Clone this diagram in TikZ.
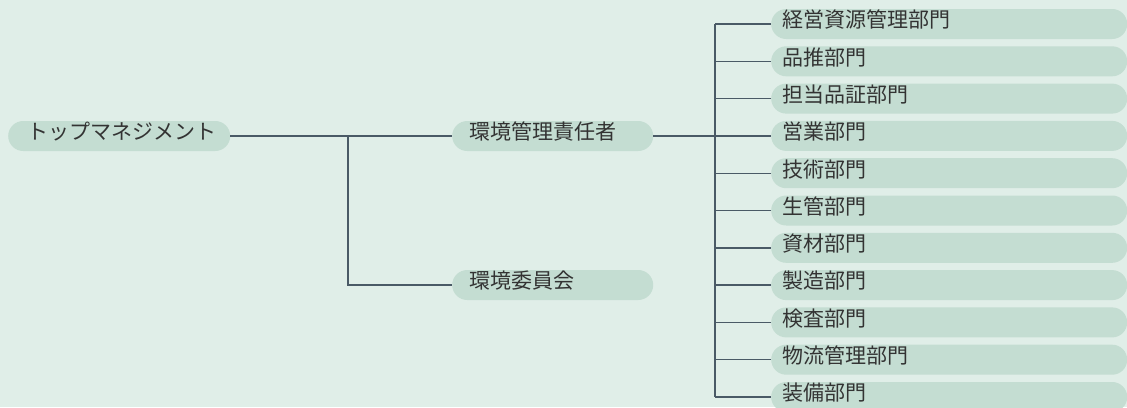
\documentclass[tikz,border=0pt]{standalone}
\usepackage{fontspec}
\newfontfamily\jp{Noto Sans CJK JP}
\definecolor{bg}{HTML}{E0EEE8}
\definecolor{pill}{HTML}{C4DDD2}
\definecolor{ln}{HTML}{4A5A66}
\definecolor{tx}{HTML}{333333}
\begin{document}
\begin{tikzpicture}[x=1pt,y=-1pt,
  pillbox/.style={fill=pill, rounded corners=15pt, minimum height=30pt, inner ysep=0pt,
    font=\jp\fontsize{21}{21}\selectfont, text=tx, text height=0.88em, text depth=0.12em, align=left, anchor=west},
  toppill/.style={pillbox, inner xsep=19pt, text width=184pt},
  midpill/.style={pillbox, inner xsep=17pt, text width=167pt},
  deptpill/.style={pillbox, inner xsep=11pt, text width=334pt},
  conn/.style={draw=ln, line width=1.4pt}]
\fill[bg] (0,0) rectangle (1127,407);
\useasboundingbox (0,0) rectangle (1127,407);
\node[toppill] (top) at (8,136) {トップマネジメント};
\node[midpill] (mgr) at (452,136) {環境管理責任者};
\node[midpill] (com) at (452,285) {環境委員会};
\coordinate (j1) at (348,136);
\coordinate (j2) at (715,136);
\foreach \t [count=\i] in {経営資源管理部門,品推部門,担当品証部門,営業部門,技術部門,生管部門,資材部門,製造部門,検査部門,物流管理部門,装備部門}{
  \node[deptpill] (d\i) at (771,{24+(\i-1)*37.3}) {\t};
}
\draw[conn] (top.east) -- (mgr.west);
\draw[conn] (j1) |- (com.west);
\draw[conn] (mgr.east) -- (j2);
\draw[conn] (j2 |- d1.west) -- (j2 |- d11.west);
\foreach \i in {1,...,11}{
  \draw[conn] (j2 |- d\i.west) -- (d\i.west);
}
\end{tikzpicture}
\end{document}
